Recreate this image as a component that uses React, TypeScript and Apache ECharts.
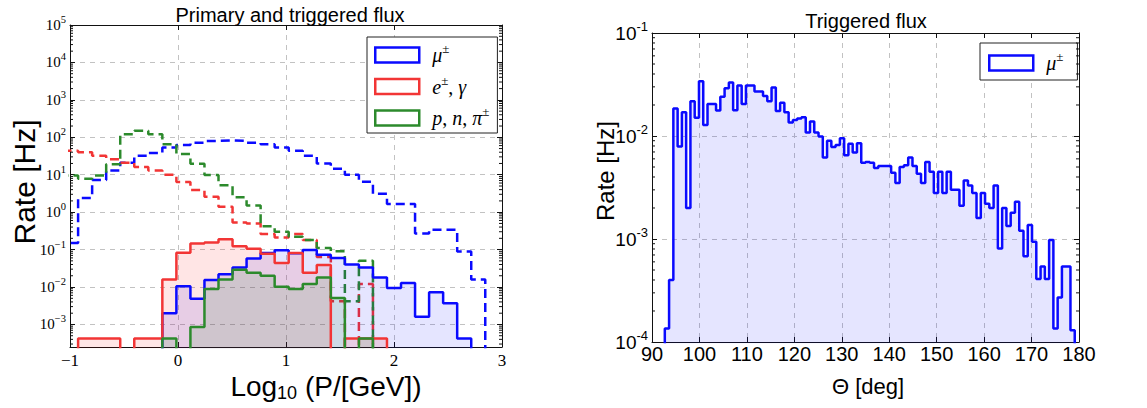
import React, { useEffect, useRef } from "react";
import * as echarts from "echarts";

// ---------------- data ----------------
// Left panel: histogram bins in log10(P/GeV)
const P_BIN_START = -1.055;
const P_BIN_WIDTH = 0.13;
const P_RANGE = [-1, 3];
const P_RATE_RANGE = [2.5e-4, 1e5];

// primary flux (dashed)
const MU_PRIMARY = [0.15, 2.4, 7.2, 13, 21, 32, 38, 53, 62, 72, 80, 83, 80, 72, 65, 53, 44, 32, 20, 14.5, 10, 6.5, 3.1, 1.66, 1.66, 0.27, 0.34, 0.34, 0.089, 0.016];
const E_PRIMARY = [44, 40, 32, 26, 21, 16, 13, 10, 6.4, 3.9, 2.6, 1.4, 0.53, 0.5, 0.26, 0.21, 0.26, 0.18, 0.063, 0.0042, 0, 0.012, 0, 0, 0, 0, 0, 0, 0, 0];
const HAD_PRIMARY = [9.5, 7.8, 9.5, 19, 120, 150, 120, 65, 36, 19.5, 9.8, 5.2, 2.5, 1.5, 0.42, 0.3, 0.22, 0.18, 0.11, 0.09, 0.0042, 0.05, 0, 0, 0, 0, 0, 0, 0, 0];
// triggered flux (solid, filled)
const MU_TRIGGERED = [0, 0, 0, 0, 0, 0, 0, 0.002, 0.0105, 0.0049, 0.0155, 0.022, 0.033, 0.058, 0.081, 0.096, 0.08, 0.097, 0.073, 0.06, 0.04, 0.033, 0.018, 0.0094, 0.0128, 0.0016, 0.0072, 0.0037, 0.00042, 0];
const E_TRIGGERED = [0, 0.00042, 0.00042, 0.00042, 0, 0.00042, 0.00042, 0.016, 0.082, 0.145, 0.155, 0.19, 0.122, 0.105, 0.078, 0.044, 0.081, 0.024, 0.039, 0, 0.00042, 0.00042, 0.00042, 0, 0, 0, 0, 0, 0, 0];
const HAD_TRIGGERED = [0, 0, 0, 0, 0, 0, 0, 0.00042, 0, 0.00085, 0.0088, 0.016, 0.029, 0.024, 0.02, 0.0102, 0.0088, 0.012, 0.018, 0.0051, 0, 0.00042, 0, 0, 0, 0, 0, 0, 0, 0];

// Right panel: histogram bins in zenith angle (deg)
const THETA_BIN_START = 90;
const THETA_BIN_WIDTH = 0.9;
const THETA_RANGE = [90, 180];
const THETA_TICK_STEP = 10;
const THETA_RATE_RANGE = [1e-4, 0.1];
const MU_THETA = [
  0, 0, 0, 0.000135, 0.0004, 0.0185, 0.0079, 0.017, 0.002, 0.0218,
  0.015, 0.034, 0.0128, 0.0204, 0.0204, 0.0177, 0.024, 0.029, 0.033, 0.0178,
  0.031, 0.0204, 0.031, 0.031, 0.027, 0.027, 0.0245, 0.0218, 0.0296, 0.0175,
  0.021, 0.017, 0.0135, 0.0143, 0.0148, 0.0152, 0.0108, 0.0138, 0.0108, 0.0099,
  0.0062, 0.009, 0.0078, 0.0082, 0.0095, 0.0065, 0.0084, 0.0069, 0.0085, 0.0055,
  0.0056, 0.0055, 0.0049, 0.0051, 0.0051, 0.0051, 0.0044, 0.0035, 0.005, 0.0052,
  0.0062, 0.0051, 0.0043, 0.0035, 0.0056, 0.0045, 0.0028, 0.0045, 0.0028, 0.0045,
  0.003, 0.003, 0.0021, 0.0037, 0.0033, 0.0028, 0.0016, 0.0028, 0.0022, 0.002,
  0.0033, 0.00081, 0.002, 0.00134, 0.0018, 0.0023, 0.0012, 0.00068, 0.00137, 0.00094,
  0.00041, 0.00054, 0.00041, 0.00098, 0.000135, 0.00027, 0.00054, 0.00054, 0.00013, 0,
];

const LEGEND_NAMES = ["mu", "e", "had"];
const LEGEND_LABELS: Record<string, string> = {
  mu: "{i|μ}{s|±}",
  e: "{i|e}{s|±}{r|, }{i|γ}",
  had: "{i|p}{r|, }{i|n}{r|, }{i|π}{s|±}",
  mu_theta: "{i|μ}{s|±}",
};

// ---------------- styling ----------------
const SERIF = "'Liberation Serif', 'DejaVu Serif', serif";
const SANS = "'Liberation Sans', Arial, Helvetica, sans-serif";
const BLUE = "#0a0aff";
const RED = "#f23535";
const GREEN = "#2c8a2c";
const FILL: Record<string, string> = {
  mu: "rgba(0,0,255,0.1)",
  e: "rgba(255,0,0,0.1)",
  had: "rgba(0,128,0,0.1)",
};
const COLORS: Record<string, string> = { mu: BLUE, e: RED, had: GREEN, mu_theta: BLUE };
const BASE = 1e-7; // below visible range, so histogram edges run out of the frame

function stepPoints(start: number, width: number, values: number[]) {
  const pts: number[][] = [[start, BASE]];
  values.forEach((v, i) => {
    const y = v > 0 ? v : BASE;
    pts.push([start + i * width, y]);
    pts.push([start + (i + 1) * width, y]);
  });
  pts.push([start + values.length * width, BASE]);
  return pts;
}

// log-axis minor tick positions (2..9 x 10^n) inside a range
function logMinorTicks(min: number, max: number) {
  const out: number[] = [];
  for (let e = Math.floor(Math.log10(min)); e < Math.ceil(Math.log10(max)); e++) {
    for (let m = 2; m <= 9; m++) {
      const v = m * Math.pow(10, e);
      if (v > min && v < max) out.push(v);
    }
  }
  return out;
}

function powLabel(minus: string) {
  return (v: number) => {
    const l = Math.log10(v);
    const e = Math.round(l);
    if (Math.abs(l - e) > 1e-6) return "";
    return `{b|10}{s|${e < 0 ? minus + -e : e}}`;
  };
}

const GRID_L = { left: 70, top: 25, width: 432, height: 322 };
const GRID_R = { left: 652, top: 33, width: 427, height: 309 };

const gridLine = { show: true, lineStyle: { color: "#c2c2c2", width: 1, type: [5, 5] as any } };
const frameLine = { show: true, onZero: false, lineStyle: { color: "#111", width: 1 } };
const tickIn = { show: true, inside: true, length: 5, lineStyle: { color: "#111", width: 1 } };

function mirrorX(gridIndex: number, min: number, max: number, interval: number) {
  return {
    type: "value", gridIndex, min, max, interval, position: "top",
    axisLine: frameLine, axisTick: tickIn, axisLabel: { show: false }, splitLine: { show: false },
  };
}
function mirrorY(gridIndex: number, min: number, max: number) {
  return {
    type: "log", logBase: 10, gridIndex, min, max, splitNumber: 8, position: "right",
    axisLine: frameLine, axisTick: tickIn, axisLabel: { show: false }, splitLine: { show: false },
  };
}

function minorTickSeries(axisIndex: number, xRange: number[], yRange: number[]) {
  return {
    type: "custom", xAxisIndex: axisIndex, yAxisIndex: axisIndex, silent: true, z: 20, clip: false,
    data: logMinorTicks(yRange[0], yRange[1]).map((v) => [xRange[0], v]),
    renderItem: (_p: any, api: any) => {
      const v = api.value(1);
      const l = api.coord([xRange[0], v]);
      const r = api.coord([xRange[1], v]);
      const st = { stroke: "#111", lineWidth: 1 };
      return {
        type: "group",
        children: [
          { type: "line", shape: { x1: l[0], y1: l[1], x2: l[0] + 3, y2: l[1] }, style: st },
          { type: "line", shape: { x1: r[0] - 3, y1: r[1], x2: r[0], y2: r[1] }, style: st },
        ],
      };
    },
  };
}

function axisTitle(text: string, x: number, y: number, size: number, vertical: boolean, rich?: any) {
  return {
    type: "text", x, y, rotation: vertical ? Math.PI / 2 : 0, silent: true, z: 50,
    style: {
      text, fill: "#000", fontFamily: SANS, fontSize: size,
      align: "center", verticalAlign: "middle", textAlign: "center", textVerticalAlign: "middle",
      rich,
    },
  };
}

export default function App() {
  const ref = useRef<HTMLDivElement>(null);

  useEffect(() => {
    if (!ref.current) return;
    const chart = echarts.init(ref.current, null, { renderer: "svg", width: 1147, height: 408 });

    const primary: Record<string, number[]> = { mu: MU_PRIMARY, e: E_PRIMARY, had: HAD_PRIMARY };
    const triggered: Record<string, number[]> = { mu: MU_TRIGGERED, e: E_TRIGGERED, had: HAD_TRIGGERED };

    const series: any[] = [];
    LEGEND_NAMES.forEach((n) => {
      series.push({
        type: "line", name: n, xAxisIndex: 0, yAxisIndex: 0, silent: true,
        data: stepPoints(P_BIN_START, P_BIN_WIDTH, primary[n]),
        symbol: "none", showSymbol: false, z: 3,
        lineStyle: { color: COLORS[n], width: 2.5, type: [9, 5] },
        itemStyle: { color: COLORS[n] },
      });
    });
    LEGEND_NAMES.forEach((n) => {
      series.push({
        type: "line", name: n, xAxisIndex: 0, yAxisIndex: 0, silent: true,
        data: stepPoints(P_BIN_START, P_BIN_WIDTH, triggered[n]),
        symbol: "none", showSymbol: false, z: 4,
        lineStyle: { color: COLORS[n], width: 2.5 },
        itemStyle: { color: COLORS[n] },
        areaStyle: { color: FILL[n], origin: BASE, opacity: 1 },
      });
    });
    series.push({
      type: "line", name: "mu_theta", xAxisIndex: 2, yAxisIndex: 2, silent: true,
      data: stepPoints(THETA_BIN_START, THETA_BIN_WIDTH, MU_THETA),
      symbol: "none", showSymbol: false, z: 4,
      lineStyle: { color: BLUE, width: 2.5 },
      itemStyle: { color: BLUE },
      areaStyle: { color: FILL.mu, origin: BASE, opacity: 1 },
    });
    series.push(minorTickSeries(0, P_RANGE, P_RATE_RANGE));
    series.push(minorTickSeries(2, THETA_RANGE, THETA_RATE_RANGE));

    const legendRich = {
      i: { fontFamily: SERIF, fontStyle: "italic", fontSize: 20, lineHeight: 26, color: "#000" },
      r: { fontFamily: SERIF, fontSize: 20, lineHeight: 26, color: "#000" },
      s: { fontFamily: SERIF, fontSize: 13, lineHeight: 13, verticalAlign: "top", color: "#000" },
    };
    const legendItem = (n: string) => ({
      name: n, icon: "rect",
      itemStyle: { color: "rgba(0,0,0,0)", borderColor: COLORS[n], borderWidth: 2.5, borderType: "solid" },
    });
    const legendCommon = {
      orient: "vertical", itemWidth: 44, itemHeight: 15,
      borderColor: "#222", borderWidth: 1, borderRadius: 0, backgroundColor: "#fff",
      selectedMode: false,
      formatter: (n: string) => LEGEND_LABELS[n],
      textStyle: { color: "#000", fontFamily: SERIF, fontSize: 20, padding: [0, 0, 0, 8], rich: legendRich },
    };

    const option: any = {
      animation: false,
      backgroundColor: "#fff",
      title: [
        {
          text: "Primary and triggered flux", left: 285, top: 10, textAlign: "center", textVerticalAlign: "middle",
          textStyle: { fontFamily: SANS, fontSize: 20, fontWeight: "normal", color: "#000" },
        },
        {
          text: "Triggered flux", left: 861, top: 16, textAlign: "center", textVerticalAlign: "middle",
          textStyle: { fontFamily: SANS, fontSize: 20, fontWeight: "normal", color: "#000" },
        },
      ],
      legend: [
        { ...legendCommon, left: 367, top: 37, itemGap: 8.5, padding: [5, 8, 5, 7], data: LEGEND_NAMES.map(legendItem) },
        { ...legendCommon, left: 980, top: 43, itemGap: 5, padding: [7, 14, 7, 8], data: [legendItem("mu_theta")] },
      ],
      grid: [
        { ...GRID_L, show: false, containLabel: false, outerBoundsMode: "none" },
        { ...GRID_R, show: false, containLabel: false, outerBoundsMode: "none" },
      ],
      graphic: [
        axisTitle("Rate [Hz]", 24, 182, 30, true),
        axisTitle("Rate [Hz]", 605, 171, 24, true),
        axisTitle("{a|Log}{b|10}{a| (P/[GeV])}", 326, 386, 28, false, {
          a: { fontFamily: SANS, fontSize: 28, lineHeight: 32, fill: "#000", color: "#000" },
          b: { fontFamily: SANS, fontSize: 18, lineHeight: 22, verticalAlign: "bottom", fill: "#000", color: "#000" },
        }),
        axisTitle("Θ [deg]", 868, 386, 22, false),
      ],
      xAxis: [
        {
          type: "value", gridIndex: 0, min: P_RANGE[0], max: P_RANGE[1], interval: 1, position: "bottom",
          axisLine: frameLine, axisTick: tickIn, splitLine: gridLine,
          axisLabel: {
            margin: 5, color: "#000", fontFamily: SERIF, fontSize: 17,
            formatter: (v: number) => (v < 0 ? "\u2212" + -v : String(v)),
          },
        },
        mirrorX(0, P_RANGE[0], P_RANGE[1], 1),
        {
          type: "value", gridIndex: 1, min: THETA_RANGE[0], max: THETA_RANGE[1], interval: THETA_TICK_STEP, position: "bottom",
          axisLine: frameLine, axisTick: tickIn, splitLine: gridLine,
          axisLabel: { margin: 2, color: "#000", fontFamily: SANS, fontSize: 20 },
        },
        mirrorX(1, THETA_RANGE[0], THETA_RANGE[1], THETA_TICK_STEP),
      ],
      yAxis: [
        {
          type: "log", logBase: 10, gridIndex: 0, min: P_RATE_RANGE[0], max: P_RATE_RANGE[1], splitNumber: 8, position: "left",
          axisLine: frameLine, axisTick: tickIn, splitLine: gridLine,
          axisLabel: {
            margin: 4, color: "#000", fontFamily: SERIF, fontSize: 15, formatter: powLabel("\u2212"),
            rich: {
              b: { fontFamily: SERIF, fontSize: 15, lineHeight: 22, color: "#000" },
              s: { fontFamily: SERIF, fontSize: 10.5, lineHeight: 10, verticalAlign: "top", color: "#000" },
            },
          },
        },
        mirrorY(0, P_RATE_RANGE[0], P_RATE_RANGE[1]),
        {
          type: "log", logBase: 10, gridIndex: 1, min: THETA_RATE_RANGE[0], max: THETA_RATE_RANGE[1], splitNumber: 8, position: "left",
          axisLine: frameLine, axisTick: tickIn, splitLine: gridLine,
          axisLabel: {
            margin: 4, color: "#000", fontFamily: SANS, fontSize: 19, formatter: powLabel("-"),
            rich: {
              b: { fontFamily: SANS, fontSize: 19, lineHeight: 26, color: "#000" },
              s: { fontFamily: SANS, fontSize: 13, lineHeight: 12, verticalAlign: "top", color: "#000" },
            },
          },
        },
        mirrorY(1, THETA_RATE_RANGE[0], THETA_RATE_RANGE[1]),
      ],
      series,
    };

    chart.setOption(option);
    return () => chart.dispose();
  }, []);

  return (
    <div
      ref={ref}
      style={{ position: "absolute", left: 0, top: 0, width: 1147, height: 408, background: "#fff" }}
    />
  );
}
